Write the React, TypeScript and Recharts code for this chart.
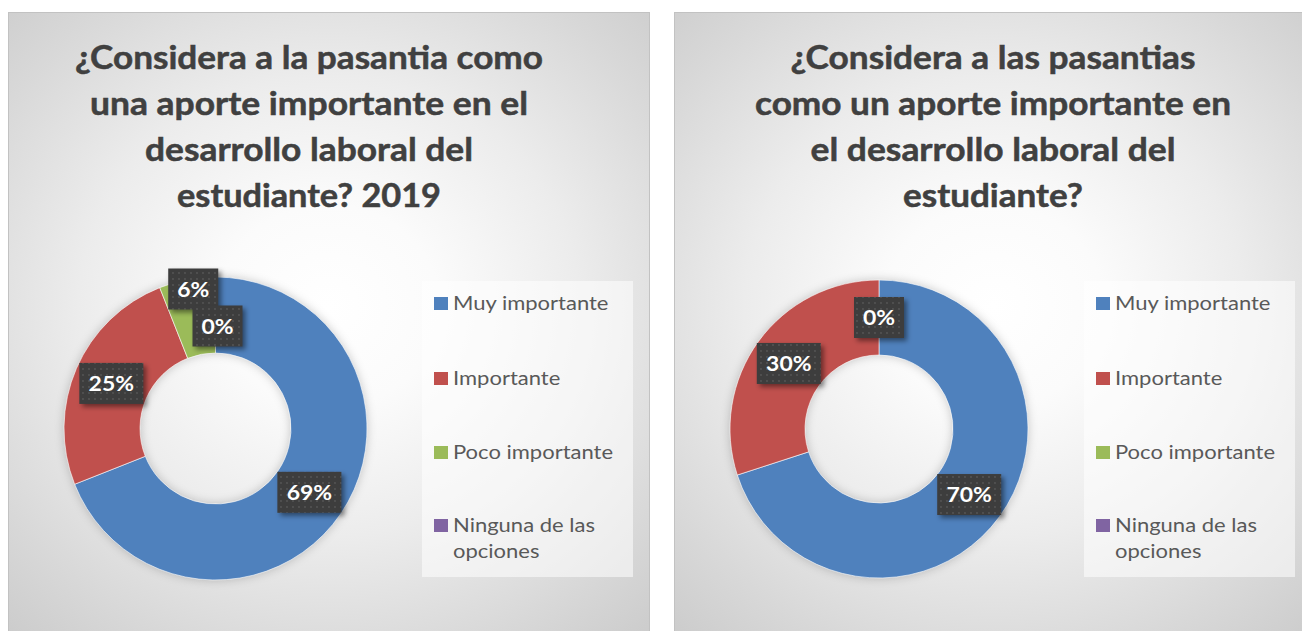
import React from 'react';
import { PieChart, Pie, Cell, Legend } from 'recharts';

const categories = ['Muy importante', 'Importante', 'Poco importante', 'Ninguna de las opciones'];
const values2019 = [69, 25, 6, 0];
const valuesGeneral = [70, 30, 0, 0];
const colors = ['#4f81bd', '#c0504d', '#9bbb59', '#8064a2'];
const title2019 = ['¿Considera a la pasantia como', 'una aporte importante en el', 'desarrollo laboral del', 'estudiante? 2019'];
const titleGeneral = ['¿Considera a las pasantias', 'como un aporte importante en', 'el desarrollo laboral del', 'estudiante?'];

// layout / styling (not data)
const titleWidths2019 = [468, 438, 328, 264];
const titleWidthsGeneral = [405, 476, 365, 180];
const titleBaselines = [57, 103, 149, 195];
const legendRowBaselines = [29, 104, 178, 251];

const FONT = 'Lato, "Open Sans", sans-serif';
const RAD = Math.PI / 180;

const buildData = (values: number[]) =>
  categories.map((name, i) => ({ name, value: values[i], fill: colors[i] }));

const makeLabel = (nudges: Record<number, [number, number]>, hidden: number[]) => (props: any) => {
  const { cx, cy, midAngle, innerRadius, outerRadius, value, index } = props;
  if (hidden.includes(index)) return null;
  const r = (innerRadius + outerRadius) / 2;
  const n = nudges[index] || [0, 0];
  const x = cx + r * Math.cos(-midAngle * RAD) + n[0];
  const y = cy + r * Math.sin(-midAngle * RAD) + n[1];
  const text = `${value}%`;
  const w = text.length <= 2 ? 50 : 64;
  const h = 41;
  return (
    <g key={`lbl-${index}`}>
      <rect x={x - w / 2 + 3} y={y - h / 2 + 3} width={w} height={h} fill="rgba(0,0,0,0.45)" filter="url(#lblBlur)" />
      <rect x={x - w / 2} y={y - h / 2} width={w} height={h} fill="url(#dotPattern)" />
      <text
        transform={`translate(${x},${y + 7.5}) scale(1.12,1)`}
        x={0}
        y={0}
        textAnchor="middle"
        fill="#ffffff"
        fontFamily={FONT}
        fontWeight={700}
        fontSize={20.5}
      >
        {text}
      </text>
    </g>
  );
};

const splitLegend = (s: string) => {
  if (s.length <= 16) return [s];
  const idx = s.lastIndexOf(' ', 15);
  return [s.slice(0, idx), s.slice(idx + 1)];
};

const renderLegend = (props: any) => {
  const payload = [...(props.payload || [])].sort(
    (a: any, b: any) => categories.indexOf(String(a.value)) - categories.indexOf(String(b.value))
  );
  return (
    <svg width={211} height={296} style={{ display: 'block' }}>
      <rect x={0} y={0} width={211} height={296} fill="rgba(255,255,255,0.55)" />
      {payload.map((entry: any, i: number) => {
        const base = legendRowBaselines[i];
        const lines = splitLegend(String(entry.value));
        return (
          <g key={`leg-${i}`}>
            <rect x={12} y={base - 13} width={14} height={13} fill={entry.color || colors[i]} />
            {lines.map((ln, j) => (
              <text
                key={j}
                transform={`translate(31,${base + j * 26}) scale(1.1,1)`}
                x={0}
                y={0}
                fill="#595959"
                fontFamily={FONT}
                fontSize={20}
              >
                {ln}
              </text>
            ))}
          </g>
        );
      })}
    </svg>
  );
};

type PanelProps = {
  left: number;
  top: number;
  width: number;
  height: number;
  values: number[];
  title: string[];
  titleWidths: number[];
  titleCx: number;
  cx: number;
  cy: number;
  inner: number;
  outer: number;
  legendX: number;
  legendY: number;
  nudges: Record<number, [number, number]>;
  hidden: number[];
};

const Panel = (p: PanelProps) => {
  const data = buildData(p.values);
  return (
    <div
      style={{
        position: 'absolute',
        left: p.left,
        top: p.top,
        width: p.width,
        height: p.height,
        background:
          'radial-gradient(ellipse 78% 72% at 50% 46%, #ffffff 0%, #fbfbfb 22%, #ececec 50%, #d8d8d8 78%, #c9c9c9 100%)',
        boxShadow: 'inset 0 0 0 1px #c2c2c2',
      }}
    >
      <svg width={p.width} height={230} style={{ position: 'absolute', left: 0, top: 0 }}>
        {p.title.map((ln, i) => (
          <text
            key={i}
            x={p.titleCx}
            y={titleBaselines[i]}
            textAnchor="middle"
            textLength={p.titleWidths[i]}
            lengthAdjust="spacingAndGlyphs"
            fill="#404040"
            fontFamily={FONT}
            fontWeight={700}
            fontSize={32}
            stroke="#404040"
            strokeWidth={0.5}
          >
            {ln}
          </text>
        ))}
      </svg>
      <div style={{ position: 'absolute', left: 0, top: 0 }}>
        <PieChart width={p.width} height={p.height} margin={{ top: 0, right: 0, bottom: 0, left: 0 }}>
          <Pie
            data={data}
            dataKey="value"
            nameKey="name"
            cx={p.cx}
            cy={p.cy}
            innerRadius={p.inner}
            outerRadius={p.outer}
            startAngle={90}
            endAngle={-270}
            stroke="#ffffff"
            strokeWidth={0.6}
            isAnimationActive={false}
            labelLine={false}
            label={makeLabel(p.nudges, p.hidden)}
          >
            {data.map((d, i) => (
              <Cell key={`c-${i}`} fill={d.fill} />
            ))}
          </Pie>
          <Legend
            layout="vertical"
            align="center"
            verticalAlign="middle"
            width={211}
            height={296}
            itemSorter={null as any}
            content={renderLegend}
            wrapperStyle={{ left: p.legendX, top: p.legendY, width: 211, height: 296 }}
          />
        </PieChart>
      </div>
    </div>
  );
};

export default function App() {
  return (
    <div
      style={{
        position: 'fixed',
        left: 0,
        top: 0,
        width: 1302,
        height: 631,
        overflow: 'hidden',
        background: '#ffffff',
      }}
    >
      <style>{`.recharts-pie { filter: drop-shadow(0px 0px 5px rgba(0,0,0,0.2)); }`}</style>
      <svg width={0} height={0} style={{ position: 'absolute' }}>
        <defs>
          <pattern id="dotPattern" width={6} height={6} patternUnits="userSpaceOnUse">
            <rect width={6} height={6} fill="#3d3d3d" />
            <circle cx={3} cy={3} r={0.9} fill="#565656" />
          </pattern>
          <filter id="lblBlur" x="-30%" y="-30%" width="160%" height="160%">
            <feGaussianBlur stdDeviation={2.5} />
          </filter>
        </defs>
      </svg>
      <Panel
        left={8}
        top={12}
        width={642}
        height={640}
        values={values2019}
        title={title2019}
        titleWidths={titleWidths2019}
        titleCx={301}
        cx={207.5}
        cy={416.5}
        inner={75.5}
        outer={151.5}
        legendX={414}
        legendY={269}
        nudges={{ 2: [-1, -28], 3: [2, 11] }}
        hidden={[]}
      />
      <Panel
        left={674}
        top={12}
        width={640}
        height={640}
        values={valuesGeneral}
        title={titleGeneral}
        titleWidths={titleWidthsGeneral}
        titleCx={319}
        cx={205}
        cy={417}
        inner={74}
        outer={149}
        legendX={410}
        legendY={269}
        nudges={{}}
        hidden={[3]}
      />
    </div>
  );
}
